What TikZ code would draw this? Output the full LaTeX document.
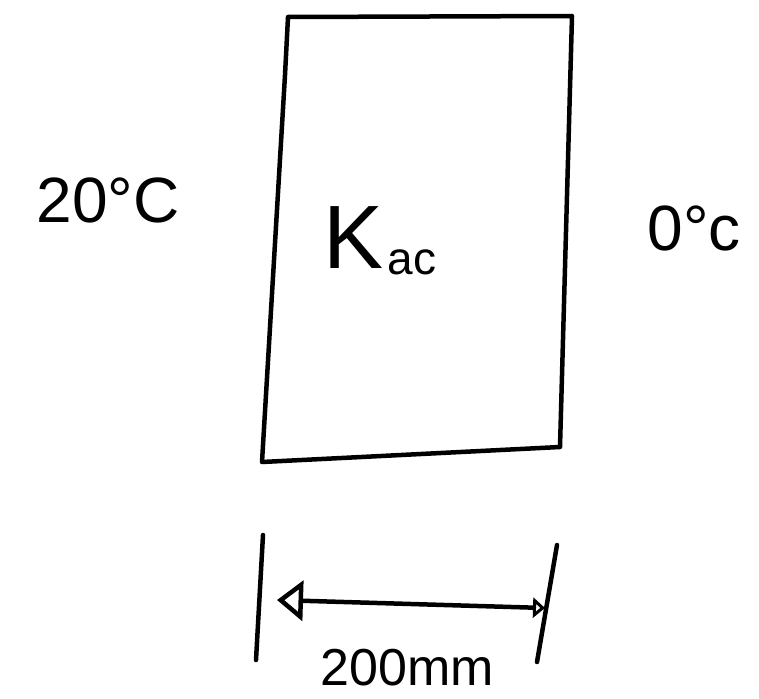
\documentclass[tikz,border=0pt]{standalone}
\usepackage{fontspec}
\setmainfont{Liberation Sans}
\usetikzlibrary{arrows.meta}
\begin{document}
\begin{tikzpicture}[x=1pt,y=-1pt,
  ink/.style={line width=4.5pt,line cap=round,line join=round,black},
  lbl/.style={inner sep=0pt,font=\fontsize{64}{68}\selectfont}]
\useasboundingbox (0,0) rectangle (759,698);
% slab
\coordinate (tl) at (288,17);
\coordinate (tr) at (572,16);
\coordinate (br) at (560,447);
\coordinate (bl) at (262,462);
\draw[ink] (tl) -- (tr) -- (br) -- (bl) -- (285,75) -- cycle;
% labels
\node[lbl] (hot) at (108,200) {20°C};
\node[lbl,font=\fontsize{64}{68}\selectfont] (cold) at (694,228) {0°c};
\node[lbl,font=\fontsize{90}{96}\selectfont] (k) at (354,238) {K};
\node[lbl,font=\fontsize{46}{50}\selectfont] (ksub) at (412,262) {ac};
% dimension
\coordinate (l1) at (263,535);
\coordinate (l2) at (256,660);
\coordinate (r1) at (557,545);
\coordinate (r2) at (537,662);
\draw[ink] (l1) -- (l2);
\draw[ink] (r1) -- (r2);
\coordinate (a1) at (277,600);
\coordinate (a2) at (545,608);
\draw[ink,{Triangle[open,length=26pt,width=40pt]}-{Triangle[open,length=12pt,width=20pt]}] (a1) -- (a2);
\node[lbl,font=\fontsize{52}{56}\selectfont] (dim) at (407,668) {200mm};
\end{tikzpicture}
\end{document}
